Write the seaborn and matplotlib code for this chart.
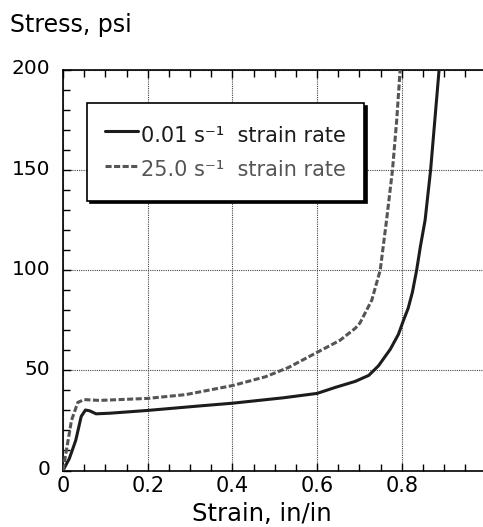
import numpy as np
import pandas as pd
import matplotlib
matplotlib.use("Agg")
import matplotlib.pyplot as plt
import matplotlib.transforms as mtransforms
from matplotlib.ticker import MultipleLocator
from matplotlib.lines import Line2D
import seaborn as sns

strain_slow = [0, 0.015, 0.03, 0.043, 0.053, 0.063, 0.078, 0.11, 0.2, 0.32, 0.4, 0.52,
               0.6, 0.643, 0.69, 0.722, 0.745, 0.773, 0.792, 0.804, 0.815, 0.825, 0.835,
               0.844, 0.855, 0.868, 0.878, 0.888]
stress_slow = [0, 6, 15, 27, 30.2, 29.8, 28.3, 28.6, 30.0, 32.2, 33.6, 36.3,
               38.5, 41.5, 44.5, 47.5, 52.3, 60.6, 68, 75, 81, 89, 100,
               112, 125, 150, 175, 200]
strain_fast = [0, 0.008, 0.02, 0.035, 0.05, 0.086, 0.2, 0.29, 0.4, 0.478, 0.533, 0.6,
               0.654, 0.69, 0.701, 0.729, 0.749, 0.764, 0.778, 0.788, 0.796]
stress_fast = [0, 10, 25, 34, 35.4, 35, 36, 37.9, 42.4, 46.8, 51.5, 59,
               65, 71, 73.6, 85, 100, 125, 150, 175, 200]
labels = ["0.01 s\u207b\u00b9  strain rate", "25.0 s\u207b\u00b9  strain rate"]
x_ticks = [0, 0.2, 0.4, 0.6, 0.8]
x_ticklabels = ["0", "0.2", "0.4", "0.6", "0.8"]
y_ticks = [0, 50, 100, 150, 200]

df = pd.concat([
    pd.DataFrame({"strain": strain_slow, "stress": stress_slow, "rate": labels[0]}),
    pd.DataFrame({"strain": strain_fast, "stress": stress_fast, "rate": labels[1]}),
])

sns.set_style("ticks")
plt.rcParams["font.family"] = ["DejaVu Sans"]
plt.rcParams["text.color"] = "black"
plt.rcParams["xtick.color"] = "black"
plt.rcParams["ytick.color"] = "black"
plt.rcParams["axes.labelcolor"] = "black"

W, H = 483, 527
fig = plt.figure(figsize=(W / 100, H / 100), dpi=100)
ax = fig.add_axes([63 / W, 1 - 470.5 / H, (486.5 - 63) / W, (470.5 - 70) / H])

palette = {labels[0]: "#1c1c1c", labels[1]: "#555555"}
sns.lineplot(data=df, x="strain", y="stress", hue="rate", style="rate",
             palette=palette, dashes={labels[0]: "", labels[1]: (2, 0.8)},
             sort=False, estimator=None, linewidth=2.2, ax=ax, legend=False,
             zorder=3)

ax.set_xlim(0, 1.0)
ax.set_ylim(0, 200)
ax.set_xticks(x_ticks)
ax.set_xticklabels(x_ticklabels)
ax.set_yticks(y_ticks)
ax.xaxis.set_minor_locator(MultipleLocator(0.05))
ax.yaxis.set_minor_locator(MultipleLocator(10))
ax.tick_params(which="both", direction="in", top=True, right=False, color="black",
               width=1.0, labelcolor="black")
ax.tick_params(which="major", length=6)
ax.tick_params(which="minor", length=5)
ax.tick_params(axis="x", which="major", labelsize=15, pad=4)
ax.tick_params(axis="y", which="major", labelsize=14.5, pad=9)
ax.set_xlabel("")
ax.set_ylabel("")
for sp in ax.spines.values():
    sp.set_color("black")
    sp.set_linewidth(1.2)
ax.grid(True, which="major", linestyle=(0, (1, 1)), color="#444444", linewidth=0.8)
ax.set_axisbelow(True)

off = mtransforms.ScaledTranslation(0, 3 / 100, fig.dpi_scale_trans)
for lab in ax.get_yticklabels():
    lab.set_transform(lab.get_transform() + off)

handles = [Line2D([], [], color=palette[labels[0]], lw=2.2),
           Line2D([], [], color=palette[labels[1]], lw=2.2, dashes=(2, 0.8))]
leg = ax.legend(handles, labels, loc="upper left",
                bbox_to_anchor=(87 / W, 1 - 103 / H), bbox_transform=fig.transFigure,
                fontsize=15, frameon=True, fancybox=False,
                shadow={"color": "black", "alpha": 1.0},
                handlelength=1.55, handleheight=1.6, handletextpad=0.15,
                borderpad=0.88, labelspacing=0.35, borderaxespad=0,
                labelcolor="linecolor")
leg.get_frame().set_edgecolor("black")
leg.get_frame().set_linewidth(1.2)
leg.get_frame().set_alpha(1.0)
leg.set_zorder(5)

fig.text(10 / W, 1 - 32 / H, "Stress, psi", fontsize=17, ha="left", va="baseline")
fig.text(262 / W, 1 - 521 / H, "Strain, in/in", fontsize=17.5, ha="center", va="baseline")

fig.savefig("out.png", dpi=100)
